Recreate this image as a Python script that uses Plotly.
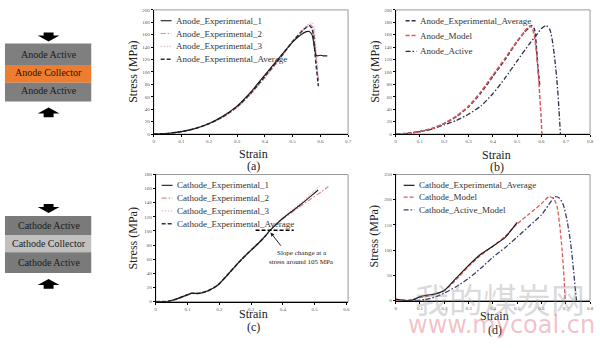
import plotly.graph_objects as go

# ---------------- data ----------------
# (a) anode experiments
a1_x = [0, 0.05, 0.1, 0.15, 0.2, 0.25, 0.3, 0.35, 0.4, 0.45, 0.5, 0.53, 0.55, 0.56, 0.57, 0.575, 0.58, 0.585, 0.59, 0.6, 0.61, 0.625]
a1_y = [0, 1, 4, 9, 17, 29, 45, 68, 95, 122, 148, 160, 165, 165, 160, 150, 135, 127, 126, 127, 126, 126]
a2_x = [0, 0.05, 0.1, 0.15, 0.2, 0.25, 0.3, 0.35, 0.4, 0.45, 0.5, 0.53, 0.55, 0.565, 0.575, 0.58, 0.585, 0.59, 0.595]
a2_y = [0, 1, 4, 9, 17, 28, 43, 65, 91, 119, 149, 164, 172, 176, 170, 150, 125, 100, 85]
a3_x = [0, 0.05, 0.1, 0.15, 0.2, 0.25, 0.3, 0.35, 0.4, 0.45, 0.5, 0.53, 0.55, 0.57, 0.578, 0.583, 0.588, 0.592]
a3_y = [0, 1, 4, 9, 16, 27, 42, 64, 90, 118, 148, 165, 175, 180, 172, 150, 120, 95]
aa_x = [0, 0.05, 0.1, 0.15, 0.2, 0.25, 0.3, 0.35, 0.4, 0.45, 0.5, 0.53, 0.55, 0.56, 0.57, 0.575, 0.58, 0.585, 0.59, 0.593]
aa_y = [0, 1, 4, 9, 17, 28, 44, 66, 93, 120, 149, 164, 172, 175, 170, 160, 135, 110, 90, 77]

# (b) anode model comparison
bm_x = [0, 0.05, 0.1, 0.15, 0.2, 0.25, 0.3, 0.35, 0.4, 0.45, 0.5, 0.53, 0.55, 0.56, 0.57, 0.58, 0.59, 0.598, 0.602]
bm_y = [0, 1, 4, 9, 17, 29, 45, 68, 95, 122, 150, 165, 174, 172, 160, 130, 80, 30, 0]
ba_x = [0, 0.05, 0.1, 0.15, 0.2, 0.25, 0.3, 0.35, 0.4, 0.45, 0.5, 0.55, 0.58, 0.6, 0.62, 0.635, 0.645, 0.655, 0.665, 0.672, 0.678]
ba_y = [0, 1, 4, 8, 15, 22, 32, 45, 65, 90, 118, 145, 160, 170, 175, 168, 150, 120, 80, 40, 0]

# (c) cathode experiments
c1_x = [0, 0.04, 0.065, 0.096, 0.111, 0.137, 0.163, 0.194, 0.23, 0.262, 0.293, 0.324, 0.345, 0.358, 0.397, 0.449, 0.49, 0.511]
c1_y = [0, 0.5, 3.7, 9, 11.7, 11.7, 15, 23, 40, 56, 70, 83, 93, 100, 117, 135, 150, 158]
c2_x = [0, 0.04, 0.065, 0.096, 0.111, 0.137, 0.163, 0.194, 0.23, 0.262, 0.293, 0.324, 0.345, 0.358, 0.397, 0.449, 0.49, 0.52, 0.543]
c2_y = [0, 0.5, 3.5, 8.5, 11, 11.5, 15, 22.5, 39.5, 55.5, 69.5, 82.5, 92.5, 100, 116, 133, 146, 155, 163]
c3_x = [0, 0.04, 0.065, 0.096, 0.111, 0.137, 0.163, 0.194, 0.23, 0.262, 0.293, 0.324, 0.345, 0.358, 0.397, 0.449, 0.49, 0.515]
c3_y = [0, 0.5, 3.7, 9, 11.7, 12, 15.5, 23.5, 40.5, 56.5, 71, 84, 94, 101, 118, 137, 153, 164]
ca_x = [0, 0.04, 0.065, 0.096, 0.111, 0.137, 0.163, 0.194, 0.23, 0.262, 0.293, 0.324, 0.345, 0.355]
ca_y = [0, 0.5, 3.7, 9, 11.7, 11.7, 15, 23, 40, 56, 70, 83, 93, 97]
slope_x = [0.314, 0.434]
slope_y = [101, 101]

# (d) cathode model comparison
de_x = [0, 0.03, 0.06, 0.08, 0.1, 0.13, 0.16, 0.2, 0.25, 0.3, 0.35, 0.4, 0.45, 0.5]
de_y = [3, 1, 0, 3, 8, 11, 13, 20, 45, 70, 92, 108, 125, 155]
dm_x = [0, 0.05, 0.1, 0.15, 0.2, 0.25, 0.3, 0.35, 0.4, 0.45, 0.5, 0.55, 0.6, 0.63, 0.65, 0.665, 0.675, 0.685, 0.693, 0.698]
dm_y = [0, 1, 6, 11, 20, 42, 68, 90, 108, 127, 152, 172, 192, 206, 203, 185, 150, 100, 45, 0]
dam_x = [0.08, 0.12, 0.16, 0.2, 0.25, 0.3, 0.35, 0.4, 0.45, 0.5, 0.55, 0.6, 0.63, 0.655, 0.675, 0.69, 0.705, 0.72, 0.73, 0.738, 0.744]
dam_y = [0, 2, 7, 15, 28, 44, 64, 86, 105, 126, 148, 170, 190, 206, 203, 190, 160, 115, 70, 30, 0]

# ---------------- figure ----------------
SERIF = "Liberation Serif, Times New Roman, DejaVu Serif, serif"
fig = go.Figure()

DASH = "4px,2px"
DASHDOT = "5px,2px,1.5px,2px"
DOT = "1.5px,1.5px"

def add(x, y, ax, color, dash, width):
    fig.add_trace(go.Scatter(x=x, y=y, mode="lines", xaxis="x" + ax, yaxis="y" + ax,
                             line=dict(color=color, dash=dash, width=width, shape="spline", smoothing=0.5),
                             showlegend=False, hoverinfo="skip"))

BLACK = "#1a1a1a"
SALMON = "#d98a8a"
PINK = "#e6bfd2"
NAVY = "#2e2e4e"
RED = "#e0585a"

# (a)
add(a3_x, a3_y, "", PINK, DOT, 1.2)
add(a2_x, a2_y, "", SALMON, DASHDOT, 1.1)
add(aa_x, aa_y, "", NAVY, DASH, 1.5)
add(a1_x, a1_y, "", BLACK, "solid", 1.1)
# (b)
add(ba_x, ba_y, "2", NAVY, DASHDOT, 1.3)
add(aa_x, aa_y, "2", NAVY, DASH, 1.5)
add(bm_x, bm_y, "2", RED, DASH, 1.5)
# (c)
add(c3_x, c3_y, "3", PINK, DOT, 1.2)
add(c2_x, c2_y, "3", SALMON, DASHDOT, 1.1)
add(ca_x, ca_y, "3", NAVY, DASH, 1.5)
add(c1_x, c1_y, "3", BLACK, "solid", 1.1)
fig.add_trace(go.Scatter(x=slope_x, y=slope_y, mode="lines", xaxis="x3", yaxis="y3",
                         line=dict(color="black", dash=DASH, width=1.5), showlegend=False, hoverinfo="skip"))
# (d)
add(dam_x, dam_y, "4", "#3a3a6e", DASHDOT, 1.3)
add(dm_x, dm_y, "4", RED, DASH, 1.3)
add(de_x, de_y, "4", BLACK, "solid", 1.2)

def px(v):
    return v / 600.0

def py(v):
    return 1 - v / 348.0

tickfont = dict(family=SERIF, size=5, color="#555")
axcommon = dict(showgrid=False, zeroline=False, showline=True, linecolor="black", linewidth=1,
                ticks="outside", ticklen=2, tickwidth=1, tickcolor="black", tickfont=tickfont)

layout = dict(
    width=600, height=348, margin=dict(l=0, r=0, t=0, b=0),
    paper_bgcolor="white", plot_bgcolor="white", showlegend=False,
    xaxis=dict(domain=[px(154), px(350)], range=[0, 0.7], tickvals=[0, .1, .2, .3, .4, .5, .6, .7],
               ticktext=["0", "0.1", "0.2", "0.3", "0.4", "0.5", "0.6", "0.7"], anchor="y", **axcommon),
    yaxis=dict(domain=[py(134), py(8)], range=[0, 200], dtick=20, anchor="x", **axcommon),
    xaxis2=dict(domain=[px(398), px(594)], range=[0, 0.8], tickvals=[0, .1, .2, .3, .4, .5, .6, .7, .8],
                ticktext=["0", "0.1", "0.2", "0.3", "0.4", "0.5", "0.6", "0.7", "0.8"], anchor="y2", **axcommon),
    yaxis2=dict(domain=[py(134), py(8)], range=[0, 200], dtick=20, anchor="x2", **axcommon),
    xaxis3=dict(domain=[px(156), px(350)], range=[0, 0.605], tickvals=[0, .1, .2, .3, .4, .5, .6],
                ticktext=["0", "0.1", "0.2", "0.3", "0.4", "0.5", "0.6"], anchor="y3", **axcommon),
    yaxis3=dict(domain=[py(304), py(175)], range=[0, 180], dtick=20, anchor="x3", **axcommon),
    xaxis4=dict(domain=[px(398), px(594)], range=[0, 0.8], tickvals=[0, .1, .2, .3, .4, .5, .6, .7, .8],
                ticktext=["0", "0.1", "0.2", "0.3", "0.4", "0.5", "0.6", "0.7", "0.8"], anchor="y4", **axcommon),
    yaxis4=dict(domain=[py(303), py(175)], range=[0, 250], dtick=50, anchor="x4", **axcommon),
)
fig.update_layout(**layout)

shapes = []
annotations = []

# frames
for ax in ["", "2", "3", "4"]:
    shapes.append(dict(type="rect", xref=f"x{ax} domain", yref=f"y{ax} domain", x0=0, x1=1, y0=0, y1=1,
                       line=dict(color="#9a9a9a", width=1), layer="below"))

def text(x, y, s, size, color="#222", angle=0, family=SERIF, xanchor="center"):
    annotations.append(dict(x=px(x), y=py(y), xref="paper", yref="paper", text=s, showarrow=False,
                            font=dict(family=family, size=size, color=color), textangle=angle,
                            xanchor=xanchor, yanchor="middle"))

# axis titles
text(133, 71, "Stress (MPa)", 12, angle=-90)
text(377, 71, "Stress (MPa)", 12, angle=-90)
text(133, 240, "Stress (MPa)", 12, angle=-90)
text(376, 238, "Stress (MPa)", 12, angle=-90)
text(255, 154, "Strain", 12)
text(255, 166, "(a)", 12)
text(500, 155, "Strain", 12)
text(500, 167, "(b)", 12)
text(255, 317, "Strain", 12)
text(255, 330, "(c)", 12)
text(498, 319, "Strain", 12)
text(498, 333, "(d)", 12)

# legends
def legend_item(x0, y, label, color, dash, width):
    shapes.append(dict(type="line", xref="paper", yref="paper", x0=px(x0), x1=px(x0 + 11), y0=py(y), y1=py(y),
                       line=dict(color=color, dash=dash, width=width)))
    text(x0 + 13, y, label, 9, color="#333", xanchor="left")

legend_item(161, 19, "Anode_Experimental_1", BLACK, "solid", 1.1)
legend_item(161, 32, "Anode_Experimental_2", SALMON, DASHDOT, 1.1)
legend_item(161, 45, "Anode_Experimental_3", PINK, DOT, 1.2)
legend_item(161, 58, "Anode_Experimental_Average", NAVY, DASH, 1.5)

legend_item(408, 19, "Anode_Experimental_Average", NAVY, DASH, 1.5)
legend_item(408, 34, "Anode_Model", RED, DASH, 1.5)
legend_item(408, 50, "Anode_Active", NAVY, DASHDOT, 1.3)

legend_item(162, 186, "Cathode_Experimental_1", BLACK, "solid", 1.1)
legend_item(162, 199, "Cathode_Experimental_2", SALMON, DASHDOT, 1.1)
legend_item(162, 212, "Cathode_Experimental_3", PINK, DOT, 1.2)
legend_item(162, 225, "Cathode_Experimental_Average", NAVY, DASH, 1.5)

legend_item(406, 186, "Cathode_Experimental_Average", BLACK, "solid", 1.2)
legend_item(406, 198, "Cathode_Model", RED, DASH, 1.3)
legend_item(406, 211, "Cathode_Active_Model", "#3a3a6e", DASHDOT, 1.3)

# slope-change annotation with arrow
annotations.append(dict(x=0.361, y=98, xref="x3", yref="y3", ax=0.397, ay=77, axref="x3", ayref="y3",
                        text="", showarrow=True, arrowhead=2, arrowsize=0.8, arrowwidth=1, arrowcolor="#222"))
text(304, 255, "Slope change at a", 7, color="#222")
text(303, 264, "stress around 105 MPa", 7, color="#222")

# schematics
def block(x0, y0, x1, y1, color):
    shapes.append(dict(type="rect", xref="paper", yref="paper", x0=px(x0), x1=px(x1), y0=py(y1), y1=py(y0),
                       line=dict(width=0), fillcolor=color))

def arrow(cx, ytop, down=True):
    if down:
        path = (f"M {px(cx-5)},{py(ytop)} L {px(cx+5)},{py(ytop)} L {px(cx+5)},{py(ytop+3)} L {px(cx+11)},{py(ytop+3)} "
                f"L {px(cx)},{py(ytop+9)} L {px(cx-11)},{py(ytop+3)} L {px(cx-5)},{py(ytop+3)} Z")
    else:
        path = (f"M {px(cx)},{py(ytop)} L {px(cx+11)},{py(ytop+6)} L {px(cx+5)},{py(ytop+6)} L {px(cx+5)},{py(ytop+10)} "
                f"L {px(cx-5)},{py(ytop+10)} L {px(cx-5)},{py(ytop+6)} L {px(cx-11)},{py(ytop+6)} Z")
    shapes.append(dict(type="path", xref="paper", yref="paper", path=path, fillcolor="black", line=dict(width=0)))

block(4, 42, 91, 64, "#7f7f7f")
block(4, 64, 91, 82, "#ed7d31")
block(4, 82, 91, 101, "#7f7f7f")
arrow(48, 31, True)
arrow(48, 107, False)
text(48, 53, "Anode Active", 10, color="#1a1a1a")
text(48, 72, "Anode Collector", 10, color="#2a1500")
text(48, 90, "Anode Active", 10, color="#1a1a1a")

block(4, 217, 91, 237, "#7a7a7a")
block(4, 237, 91, 254, "#c0c0c0")
block(4, 254, 91, 275, "#7a7a7a")
arrow(48, 205, True)
arrow(48, 281, False)
text(48, 227, "Cathode Active", 10, color="#1a1a1a")
text(48, 245, "Cathode Collector", 10, color="#1a1a1a")
text(48, 264, "Cathode Active", 10, color="#1a1a1a")

# watermark
text(503, 301, "我的煤炭网", 34, color="rgba(150,150,150,0.35)", family="Noto Sans CJK SC")
text(505, 328, "www.mycoal.cn", 24, color="rgba(225,120,130,0.45)", family="DejaVu Sans")

fig.update_layout(shapes=shapes, annotations=annotations)
fig.write_html("out.html")
